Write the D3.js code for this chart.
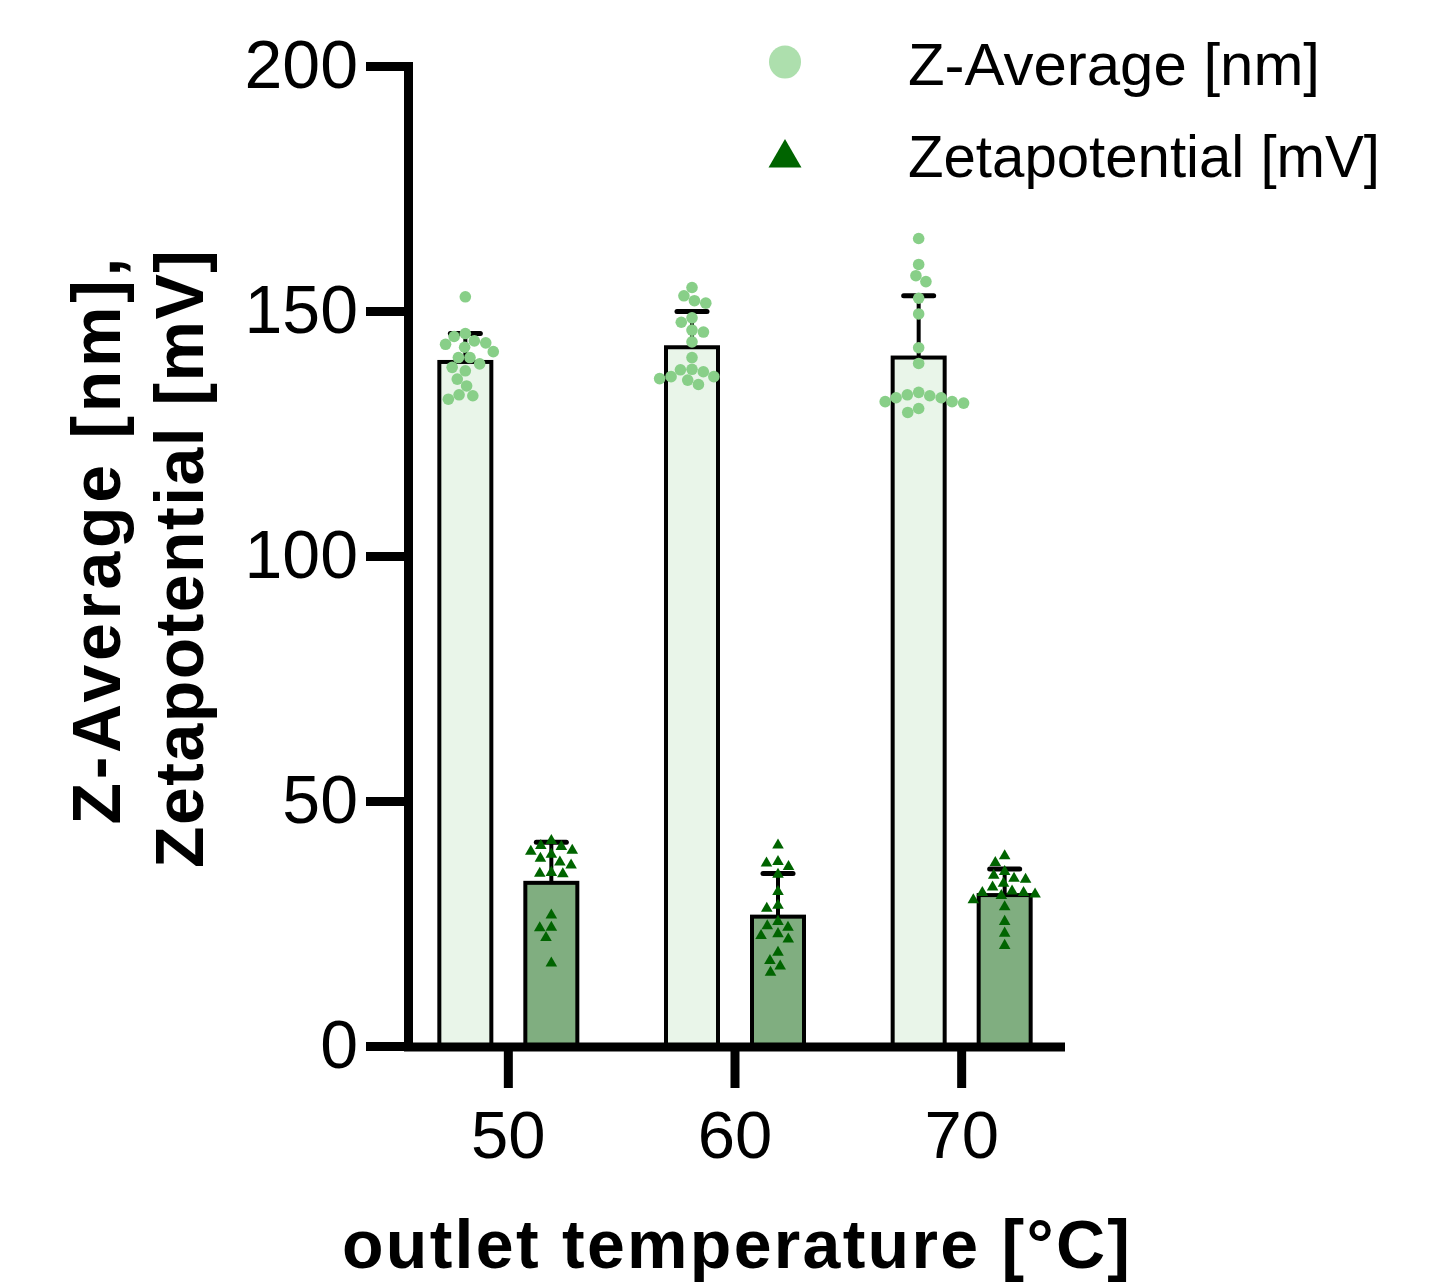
<!DOCTYPE html>
<html>
<head>
<meta charset="utf-8">
<script src="https://cdn.jsdelivr.net/npm/d3@7"></script>
<style>
  body { margin: 0; background: #fff; }
  text { font-family: "Liberation Sans", Arial, sans-serif; fill: #000; }
</style>
</head>
<body>
<div id="chart"></div>
<script>
// data
var temps = ["50", "60", "70"];
var series = ["Z-Average [nm]", "Zetapotential [mV]"];

var zAvgMean = [139.6, 142.6, 140.5];
var zAvgSD   = [5.8, 7.3, 12.6];
var zetaMean = [33.3, 26.4, 30.8];
var zetaSD   = [8.3, 8.8, 5.3];

var zAvgPoints = [
  [152.9, 145.4, 143.5, 143.2, 143.9, 144.8, 142.6, 141.7, 140.5, 140.5, 138.5, 139.2, 137.8, 136.1, 134.7, 132.0, 132.9, 132.7],
  [154.8, 153.1, 152.1, 151.6, 147.7, 148.6, 145.7, 146.1, 143.7, 140.5, 138.0, 137.6, 135.9, 136.2, 136.6, 138.1, 136.6, 135.0],
  [164.8, 159.5, 157.2, 156.0, 152.6, 149.4, 142.5, 139.3, 132.9, 133.4, 132.7, 131.2, 131.5, 132.3, 131.5, 132.3, 130.1, 129.3]
];
var zetaPoints = [
  [41.9, 40.9, 40.7, 39.1, 39.9, 39.7, 38.3, 36.9, 37.5, 35.4, 35.1, 35.2, 26.7, 24.1, 24.2, 22.1, 16.9],
  [41.0, 37.3, 37.6, 36.6, 35.0, 31.5, 28.1, 28.7, 25.4, 22.9, 24.5, 24.2, 21.8, 22.5, 17.4, 19.1, 16.3, 15.0],
  [38.8, 37.4, 35.6, 34.8, 34.2, 34.0, 33.2, 32.4, 31.6, 31.0, 30.7, 31.3, 31.3, 29.8, 28.4, 25.4, 23.0, 20.5]
];

var yTicks = [0, 50, 100, 150, 200];

var width = 1449, height = 1285;

var svg = d3.select('#chart')
  .append('svg')
  .attr('width', width)
  .attr('height', height);

// scales
var y = d3.scaleLinear().domain([0, 200]).range([1046, 66]);
var x = d3.scaleBand().domain(temps).range([395, 1075]).padding(0);
var xSeries = d3.scalePoint().domain(series).range([-43, 43]);
var barW = 52;

var colors = {
  zFill: '#e9f5e9', zetaFill: '#80ae80',
  zDot: '#88cf88', zLegend: '#addfad', zetaDot: '#006400'
};

function cx(i, s) { return x(temps[i]) + x.bandwidth() / 2 + xSeries(s); }

// build rows for bars
var bars = [];
temps.forEach(function(t, i) {
  bars.push({ i: i, s: series[0], mean: zAvgMean[i], sd: zAvgSD[i], fill: colors.zFill });
  bars.push({ i: i, s: series[1], mean: zetaMean[i], sd: zetaSD[i], fill: colors.zetaFill });
});

// bars
svg.append('g').selectAll('rect')
  .data(bars)
  .enter()
  .append('rect')
  .attr('x', d => cx(d.i, d.s) - barW / 2)
  .attr('y', d => y(d.mean))
  .attr('width', barW)
  .attr('height', d => y(0) - y(d.mean))
  .attr('fill', d => d.fill)
  .attr('stroke', '#000')
  .attr('stroke-width', 4);

// error bars (upper only)
var err = svg.append('g');
err.selectAll('line.v')
  .data(bars)
  .enter()
  .append('line')
  .attr('class', 'v')
  .attr('x1', d => cx(d.i, d.s)).attr('x2', d => cx(d.i, d.s))
  .attr('y1', d => y(d.mean)).attr('y2', d => y(d.mean + d.sd))
  .attr('stroke', '#000').attr('stroke-width', 4);
err.selectAll('line.cap')
  .data(bars)
  .enter()
  .append('line')
  .attr('class', 'cap')
  .attr('x1', d => cx(d.i, d.s) - 15).attr('x2', d => cx(d.i, d.s) + 15)
  .attr('y1', d => y(d.mean + d.sd)).attr('y2', d => y(d.mean + d.sd))
  .attr('stroke', '#000').attr('stroke-width', 5).attr('stroke-linecap', 'round');

// beeswarm: each point goes as close to the centre as it can without overlapping
function swarm(values, dist) {
  var pts = values.map(v => ({ v: v, py: y(v) }))
    .sort((a, b) => a.py - b.py);
  var placed = [];
  pts.forEach(function(p) {
    var near = placed.filter(q => Math.abs(q.py - p.py) < dist);
    var cands = [0];
    near.forEach(function(q) {
      var dx = Math.sqrt(dist * dist - (q.py - p.py) * (q.py - p.py));
      cands.push(q.off - dx, q.off + dx);
    });
    cands.sort((a, b) => Math.abs(a) - Math.abs(b) || a - b);
    p.off = cands.find(function(c) {
      return near.every(q => Math.hypot(q.off - c, q.py - p.py) >= dist - 0.01);
    });
    placed.push(p);
  });
  return pts;
}

var dotG = svg.append('g');
temps.forEach(function(t, i) {
  dotG.selectAll('circle.g' + i)
    .data(swarm(zAvgPoints[i], 11.6))
    .enter()
    .append('circle')
    .attr('cx', d => cx(i, series[0]) + d.off)
    .attr('cy', d => y(d.v))
    .attr('r', 5.8)
    .attr('fill', colors.zDot);

  dotG.selectAll('path.g' + i)
    .data(swarm(zetaPoints[i], 11.6))
    .enter()
    .append('path')
    .attr('d', d3.symbol().type(d3.symbolTriangle).size(58))
    .attr('transform', d => `translate(${cx(i, series[1]) + d.off},${y(d.v)})`)
    .attr('fill', colors.zetaDot);
});

// y axis
var yAxis = svg.append('g')
  .attr('transform', 'translate(408,0)')
  .call(d3.axisLeft(y).tickValues(yTicks).tickSize(42).tickPadding(8).tickSizeOuter(0));
yAxis.select('.domain').attr('stroke-width', 9).attr('stroke-linecap', 'square');
yAxis.selectAll('.tick line').attr('stroke-width', 9);
yAxis.selectAll('.tick text').style('font-size', '68px').attr('font-family', null);

// x axis
var xAxis = svg.append('g')
  .attr('transform', 'translate(0,1047)')
  .call(d3.axisBottom(x).tickSize(41).tickPadding(22).tickSizeOuter(0));
xAxis.select('.domain').attr('d', 'M404,0H1065').attr('stroke-width', 9);
xAxis.selectAll('.tick line').attr('stroke-width', 9);
xAxis.selectAll('.tick text').style('font-size', '67px').attr('font-family', null);

// axis titles
svg.append('text')
  .attr('x', 736).attr('y', 1268)
  .attr('text-anchor', 'middle')
  .attr('textLength', 788).attr('lengthAdjust', 'spacing')
  .style('font-size', '68px').style('font-weight', 'bold')
  .text('outlet temperature [°C]');

svg.append('text')
  .attr('transform', 'translate(120,541)rotate(-90)')
  .attr('text-anchor', 'middle')
  .attr('textLength', 567).attr('lengthAdjust', 'spacing')
  .style('font-size', '68px').style('font-weight', 'bold')
  .text('Z-Average [nm],');

svg.append('text')
  .attr('transform', 'translate(203,559)rotate(-90)')
  .attr('text-anchor', 'middle')
  .attr('textLength', 618).attr('lengthAdjust', 'spacing')
  .style('font-size', '68px').style('font-weight', 'bold')
  .text('Zetapotential [mV]');

// legend
var legendW = [412, 472];
var legend = svg.append('g');
legend.append('ellipse')
  .attr('cx', 785).attr('cy', 62).attr('rx', 16).attr('ry', 16.5)
  .attr('fill', colors.zLegend);
legend.append('path')
  .attr('d', d3.symbol().type(d3.symbolTriangle).size(470))
  .attr('transform', 'translate(785,158)')
  .attr('fill', colors.zetaDot);
legend.selectAll('text')
  .data(series)
  .enter()
  .append('text')
  .attr('x', 908)
  .attr('y', (d, i) => 85 + i * 92)
  .attr('textLength', (d, i) => legendW[i]).attr('lengthAdjust', 'spacingAndGlyphs')
  .style('font-size', '60px')
  .text(d => d);
</script>
</body>
</html>
